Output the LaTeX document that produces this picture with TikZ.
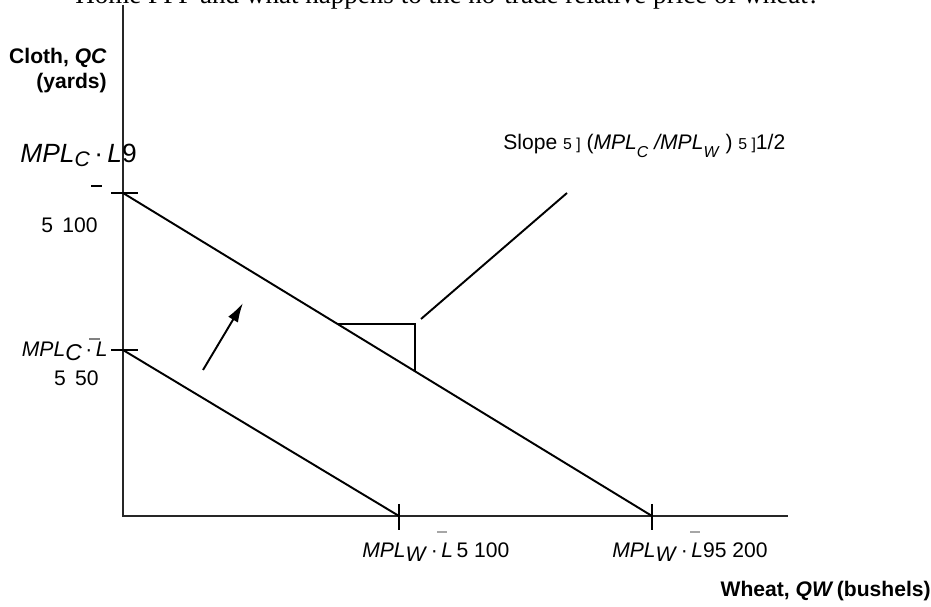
\documentclass[tikz,border=0pt]{standalone}
\usepackage{fontspec}
\setmainfont{Liberation Sans}
\newfontfamily\qfont{Liberation Serif}
\usetikzlibrary{arrows.meta}

\tikzset{
    axis/.style={line width=1.4pt, black!85},
    ppf/.style={line width=1.1pt},
    tickmark/.style={line width=1.1pt},
    lbl/.style={inner sep=0pt, font=\fontsize{12}{14}\selectfont},
    axlbl/.style={inner sep=0pt, font=\fontsize{12}{14}\selectfont\bfseries},
}

\begin{document}
\begin{tikzpicture}[x=0.02cm, y=-0.02cm]
    \useasboundingbox (0,0) rectangle (931,607);
    % question line, cut by the top edge
    \node[anchor=base west, inner sep=0pt] (question) at (75,4) {\qfont\fontsize{15.4}{17}\selectfont Home PPF and what happens to the no-trade relative price of wheat?};

    % axes
    \coordinate (ytop) at (123,5);
    \coordinate (origin) at (123,516);
    \coordinate (xend) at (788,516);
    \draw[axis] (ytop) -- (origin) -- (xend);

    % intercepts
    \coordinate (c100) at (123,193);
    \coordinate (c50) at (123,350);
    \coordinate (w100) at (399,516);
    \coordinate (w200) at (652,516);
    \draw[tickmark] (c100) ++(-12,0) -- ++(27,0);
    \draw[tickmark] (c50) ++(-12,0) -- ++(27,0);
    \draw[tickmark] (w100) ++(0,-12) -- ++(0,26);
    \draw[tickmark] (w200) ++(0,-12) -- ++(0,26);

    % the two PPFs
    \draw[ppf] (c100) -- (w200);
    \draw[ppf] (c50) -- (w100);

    % slope triangle and leader line
    \coordinate (tri1) at (338,324);
    \coordinate (tri2) at (415,324);
    \coordinate (tri3) at (415,371);
    \draw[ppf] (tri1) -- (tri2) -- (tri3);
    \coordinate (lead1) at (421,319);
    \coordinate (lead2) at (567,193);
    \draw[ppf] (lead1) -- (lead2);

    % shift arrow
    \coordinate (shift1) at (203,370);
    \coordinate (shift2) at (243,303);
    \draw[ppf, -{Latex[length=11pt,width=6.5pt]}] (shift1) -- (shift2);

    % axis labels
    \node[axlbl, anchor=base east] (clothlbl) at (107,64) {Cloth, \textit{QC}};
    \node[axlbl, anchor=base east] (yardslbl) at (107,89) {(yards)};
    \node[axlbl, anchor=base east] (wheatlbl) at (931,597) {Wheat, \textit{QW}\,(bushels)};

    % cloth intercept labels
    \node[inner sep=0pt, anchor=base west, font=\fontsize{15}{17}\selectfont] (ctoplbl) at (20,163)
        {\textit{MPL}\raisebox{-2pt}{\fontsize{12}{14}\selectfont\textit{C}}\,·\,\textit{L}9};
    \draw[line width=1pt] (91,186) -- (102,186);
    \node[lbl, anchor=base east] (c100lbl) at (98,233) {5\, 100};
    \node[lbl, anchor=base east] (cbotlbl) at (108,357)
        {\textit{MPL}\raisebox{-2pt}{\fontsize{13}{15}\selectfont\textit{C}}\,·\,\textit{L}};
    \draw[line width=1.2pt, black!50] (89,339) -- (100,339);
    \node[lbl, anchor=base east] (c50lbl) at (99,386) {5\, 50};

    % wheat intercept labels
    \node[lbl, anchor=base west] (w100lbl) at (362,558)
        {\textit{MPL}\raisebox{-2pt}{\textit{W}}\,·\,\textit{L}\,5 100};
    \draw[line width=1.2pt, black!35] (437,532) -- (447,532);
    \node[lbl, anchor=base west] (w200lbl) at (612,558)
        {\textit{MPL}\raisebox{-2pt}{\textit{W}}\,·\,\textit{L}95 200};
    \draw[line width=1.2pt, black!35] (690,532) -- (700,532);

    % slope label
    \node[lbl, anchor=base west] (slopelbl) at (503,150)
        {Slope {\small 5 ]} (\textit{MPL}\raisebox{-4pt}{\small\textit{C}} \textit{/MPL}\raisebox{-4pt}{\small\textit{W}} ) {\small 5 ]}1/2};
\end{tikzpicture}
\end{document}
